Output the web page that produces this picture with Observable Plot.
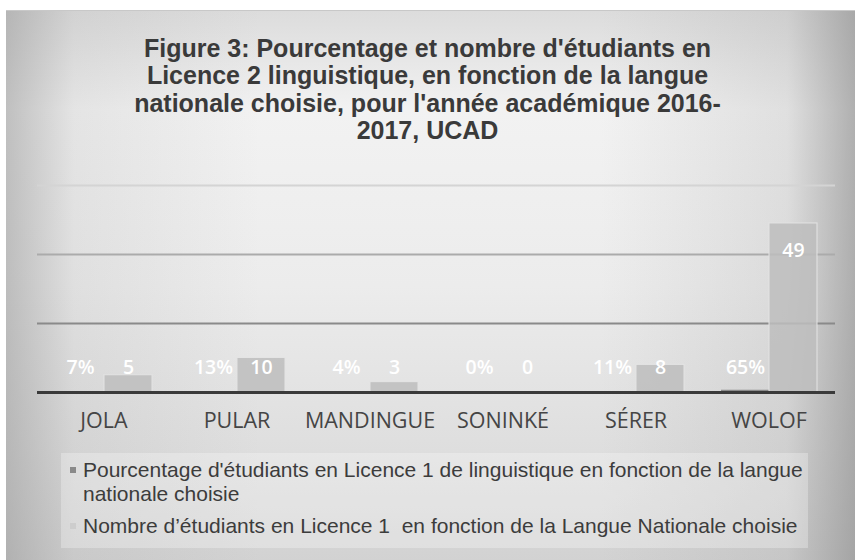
<!DOCTYPE html>
<html>
<head>
<meta charset="utf-8">
<script src="https://cdn.jsdelivr.net/npm/d3@7"></script>
<script src="https://cdn.jsdelivr.net/npm/@observablehq/plot@0.6"></script>
<style>
  html, body { margin: 0; padding: 0; background: #ffffff; }
  #page { position: relative; width: 855px; height: 560px; overflow: hidden; background: #ffffff; }
  #card {
    position: absolute; left: 6px; top: 10px; width: 849px; height: 550px;
    background:
      linear-gradient(to right, rgba(150,150,150,0.55) 0%, rgba(150,150,150,0.15) 8%, rgba(150,150,150,0) 30%, rgba(150,150,150,0) 70%, rgba(150,150,150,0.2) 92%, rgba(140,140,140,0.65) 100%),
      linear-gradient(to bottom, #dcdcdc 0%, #f2f2f2 18%, #ececec 50%, #dedede 80%, #d2d2d2 100%);
    border-top: 1px solid #c8c8c8;
  }
  #title {
    position: absolute; left: 0; top: 35px; width: 855px; text-align: center;
    font-family: "Liberation Sans", Arial, sans-serif; font-weight: bold; font-size: 25px;
    line-height: 27.3px; color: #3a3a3a;
  }
  #chart { position: absolute; left: 0; top: 160px; }
  #legend {
    position: absolute; left: 61px; top: 453px; width: 747px; height: 95px;
    background: rgba(255,255,255,0.28);
    font-family: "Liberation Sans", Arial, sans-serif; font-size: 21px; color: #3c3c3c;
  }
  .item { position: absolute; left: 22px; line-height: 24px; white-space: pre; }
  .sw { position: absolute; width: 6px; height: 6px; left: 9px; }
</style>
</head>
<body>
<div id="page">
  <div id="card"></div>
  <div id="title">Figure 3: Pourcentage et nombre d'étudiants en<br>Licence 2 linguistique, en fonction de la langue<br>nationale choisie, pour l'année académique 2016-<br>2017, UCAD</div>
  <div id="chart"></div>
  <div id="legend"></div>
</div>
<script>
const categories = ["JOLA", "PULAR", "MANDINGUE", "SONINKÉ", "SÉRER", "WOLOF"];
const pctValues = [7, 13, 4, 0, 11, 65];          // percent of students
const countValues = [5, 10, 3, 0, 8, 49];         // number of students
const gridTicks = [20, 40, 60];
const seriesNames = [
  "Pourcentage d'étudiants en Licence 1 de linguistique en fonction de la langue\nnationale choisie",
  "Nombre d’étudiants en Licence 1  en fonction de la Langue Nationale choisie"
];
const seriesKeys = ["pct", "count"];

const seriesFill = {pct: "#8a8a8a", count: "#bdbdbd"};
const gridStroke = ["#8a8a8a", "#ababab", "#d4d4d4"];

// Both series were plotted on the same count axis: percentages (as fractions) are near-zero bars
const rows = [];
categories.forEach((c, i) => {
  rows.push({cat: c, series: "pct", value: pctValues[i] / 100, label: pctValues[i] + "%"});
  rows.push({cat: c, series: "count", value: countValues[i], label: String(countValues[i])});
});

// label position: inside end for tall bars, fixed low position for short ones (in data units)
const labelY = d => d.series === "count" ? Math.max(d.value - 7.8, 7.25) : 7.25;

const plot = Plot.plot({
  width: 855,
  height: 290,
  marginLeft: 36,
  marginRight: 20,
  marginTop: 25,
  marginBottom: 58,
  style: {background: "transparent", color: "#454545", fontFamily: "'Open Sans', sans-serif", fontSize: "21.5px"},
  fx: {domain: categories, padding: 0, label: null, tickSize: 0, tickPadding: 20, axis: "bottom"},
  x: {domain: seriesKeys, paddingInner: 0, paddingOuter: 0.385, axis: null},
  y: {domain: [0, 60], axis: null},
  marks: [
    ...gridTicks.map((t, i) => Plot.ruleY([t], {stroke: gridStroke[i], strokeWidth: 2})),
    Plot.barY(rows.filter(d => d.series === "pct"), {fx: "cat", x: "series", y: "value", fill: seriesFill.pct}),
    Plot.barY(rows.filter(d => d.series === "count"), {fx: "cat", x: "series", y: "value", fill: seriesFill.count, fillOpacity: 0.85, stroke: "#e4e4e4", strokeWidth: 1}),
    Plot.ruleY([0], {stroke: "#3a3a3a", strokeWidth: 3}),
    Plot.text(rows, {fx: "cat", x: "series", y: labelY, text: "label", fill: "#ffffff", fontSize: 19.5, fontWeight: 600, fontFamily: "'Open Sans', sans-serif"})
  ]
});
document.getElementById("chart").appendChild(plot);

// legend
const legend = document.getElementById("legend");
const tops = [5, 61];
seriesKeys.forEach((k, i) => {
  const sw = document.createElement("div");
  sw.className = "sw";
  sw.style.top = (tops[i] + 9) + "px";
  sw.style.background = k === "pct" ? "#8a8a8a" : "#cdcdcd";
  legend.appendChild(sw);
  const it = document.createElement("div");
  it.className = "item";
  it.style.top = tops[i] + "px";
  it.textContent = seriesNames[i];
  legend.appendChild(it);
});
</script>
</body>
</html>
